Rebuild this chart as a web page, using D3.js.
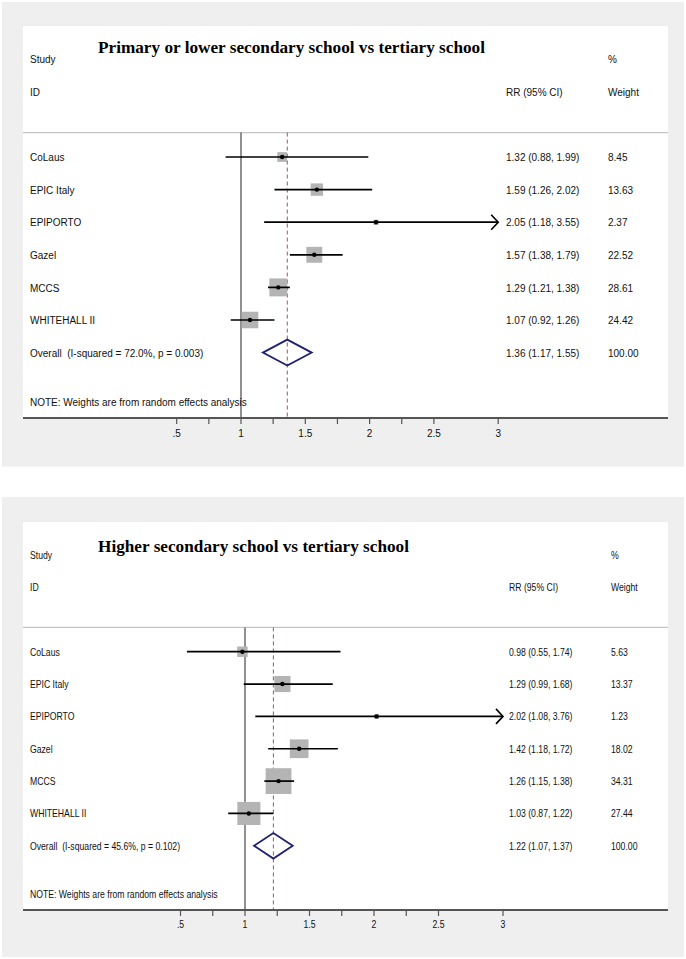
<!DOCTYPE html>
<html><head><meta charset="utf-8">
<script src="https://cdn.jsdelivr.net/npm/d3@7/dist/d3.min.js"></script>
<style>body{margin:0;background:#fff}svg{display:block}</style>
</head><body>
<svg id="c" width="686" height="959"></svg>
<script>
// ---------- data ----------
const studies = ["CoLaus", "EPIC Italy", "EPIPORTO", "Gazel", "MCCS", "WHITEHALL II"];

const titleA = "Primary or lower secondary school vs tertiary school";
const rrA = [1.32, 1.59, 2.05, 1.57, 1.29, 1.07];
const loA = [0.88, 1.26, 1.18, 1.38, 1.21, 0.92];
const hiA = [1.99, 2.02, 3.55, 1.79, 1.38, 1.26];
const wA  = [8.45, 13.63, 2.37, 22.52, 28.61, 24.42];
const overallA = [1.36, 1.17, 1.55];
const overallLabelA = "Overall  (I-squared = 72.0%, p = 0.003)";

const titleB = "Higher secondary school vs tertiary school";
const rrB = [0.98, 1.29, 2.02, 1.42, 1.26, 1.03];
const loB = [0.55, 0.99, 1.08, 1.18, 1.15, 0.87];
const hiB = [1.74, 1.68, 3.76, 1.72, 1.38, 1.22];
const wB  = [5.63, 13.37, 1.23, 18.02, 34.31, 27.44];
const overallB = [1.22, 1.07, 1.37];
const overallLabelB = "Overall  (I-squared = 45.6%, p = 0.102)";

const tickMajor = [0.5, 1, 1.5, 2, 2.5, 3];
const tickLabels = [".5", "1", "1.5", "2", "2.5", "3"];
const tickMinor = [0.75, 1.25, 1.75, 2.25];
const axisMax = 3;
const noteText = "NOTE: Weights are from random effects analysis";

// ---------- drawing ----------
const svg = d3.select("#c");
const fmt = d3.format(".2f");

function panel(data, L) {
  const g = svg.append("g");
  g.append("rect").attr("x", 2).attr("y", L.gy0).attr("width", 682).attr("height", L.gy1 - L.gy0).attr("fill", "#efefef");
  g.append("rect").attr("x", 23).attr("y", L.wy0).attr("width", 645).attr("height", L.wy1 - L.wy0).attr("fill", "#fff");

  const x = d3.scaleLinear().domain([1, 3]).range([L.x1, L.x3]);
  const y = d3.scaleLinear().domain([0, 1]).range([L.row0, L.row0 + L.step]);

  const txt = (s, px, py, anchor) => g.append("text")
    .attr("transform", `translate(${px},${py}) scale(${L.sx},1)`)
    .attr("text-anchor", anchor || "start")
    .style("white-space", "pre")
    .attr("font-family", "'Liberation Sans', Arial, sans-serif")
    .attr("font-size", L.fs).attr("fill", "#111").text(s);
  const off = L.fs * 0.36;

  // title
  g.append("text").attr("x", 98).attr("y", L.titleY)
    .attr("font-family", "'Liberation Serif', 'Times New Roman', serif")
    .attr("font-weight", "bold").attr("font-size", 17.5).attr("fill", "#000")
    .attr("textLength", L.titleW).attr("lengthAdjust", "spacingAndGlyphs")
    .text(data.title);

  // headers
  txt("Study", 30, y(-3) + off);
  txt("ID", 30, y(-2) + off);
  txt("%", L.wX, y(-3) + off);
  txt("RR (95% CI)", L.rrX, y(-2) + off);
  txt("Weight", L.wX, y(-2) + off);

  // separator
  g.append("line").attr("x1", 23).attr("x2", 668).attr("y1", y(-0.75)).attr("y2", y(-0.75))
    .attr("stroke", "#c4c4c4").attr("stroke-width", 1.2);

  // null line
  g.append("line").attr("x1", x(1)).attr("x2", x(1)).attr("y1", y(-0.75)).attr("y2", L.wy1)
    .attr("stroke", "#555").attr("stroke-width", 1.3);
  // overall dashed line
  g.append("line").attr("x1", x(data.overall[0])).attr("x2", x(data.overall[0]))
    .attr("y1", y(-0.75)).attr("y2", L.wy1)
    .attr("stroke", "#a0565a").attr("stroke-width", 1).attr("stroke-dasharray", "4,3");

  // studies
  studies.forEach((s, i) => {
    const cy = y(i);
    const side = L.k * Math.sqrt(data.w[i]);
    g.append("rect").attr("x", x(data.rr[i]) - side / 2).attr("y", cy - side / 2)
      .attr("width", side).attr("height", side).attr("fill", "#b4b4b4");
    const hiC = Math.min(data.hi[i], axisMax);
    g.append("line").attr("x1", x(data.lo[i])).attr("x2", x(hiC)).attr("y1", cy).attr("y2", cy)
      .attr("stroke", "#000").attr("stroke-width", 1.7);
    if (data.hi[i] > axisMax) {
      const tx = x(axisMax);
      g.append("path").attr("d", `M${tx - 7},${cy - 7.5}L${tx},${cy}L${tx - 7},${cy + 7.5}`)
        .attr("fill", "none").attr("stroke", "#000").attr("stroke-width", 1.6);
    }
    g.append("circle").attr("cx", x(data.rr[i])).attr("cy", cy).attr("r", 2.2).attr("fill", "#000");
    txt(s, 30, cy + off);
    txt(`${fmt(data.rr[i])} (${fmt(data.lo[i])}, ${fmt(data.hi[i])})`, L.rrX, cy + off);
    txt(fmt(data.w[i]), L.wX, cy + off);
  });

  // overall diamond
  const oy = y(6), o = data.overall;
  g.append("path")
    .attr("d", `M${x(o[1])},${oy}L${x(o[0])},${oy - L.dh}L${x(o[2])},${oy}L${x(o[0])},${oy + L.dh}Z`)
    .attr("fill", "none").attr("stroke", "#1f2272").attr("stroke-width", 1.8);
  txt(data.overallLabel, 30, oy + off);
  txt(`${fmt(o[0])} (${fmt(o[1])}, ${fmt(o[2])})`, L.rrX, oy + off);
  txt(fmt(d3.sum(data.w)), L.wX, oy + off);

  txt(noteText, 30, y(7.5) + off);

  // axis
  const ax = g.append("g").attr("transform", `translate(0,${L.wy1})`);
  ax.append("line").attr("x1", 23).attr("x2", 668).attr("stroke", "#555").attr("stroke-width", 1.8);
  ax.selectAll(".mj").data(tickMajor).enter().append("line")
    .attr("x1", d => x(d)).attr("x2", d => x(d)).attr("y1", 0).attr("y2", 6)
    .attr("stroke", "#555").attr("stroke-width", 1.2);
  ax.selectAll(".mn").data(tickMinor).enter().append("line")
    .attr("x1", d => x(d)).attr("x2", d => x(d)).attr("y1", 0).attr("y2", 6)
    .attr("stroke", "#555").attr("stroke-width", 1.2);
  tickMajor.forEach((d, i) => txt(tickLabels[i], x(d), L.tickY, "middle"));
}

panel({title: titleA, rr: rrA, lo: loA, hi: hiA, w: wA, overall: overallA, overallLabel: overallLabelA},
  {gy0: 2, gy1: 466.7, wy0: 26, wy1: 418, x1: 241, x3: 498.2, row0: 157, step: 32.6,
   fs: 11.5, sx: 0.87, k: 3.35, rrX: 506, wX: 608, titleY: 53, titleW: 387, tickY: 437, dh: 13});
panel({title: titleB, rr: rrB, lo: loB, hi: hiB, w: wB, overall: overallB, overallLabel: overallLabelB},
  {gy0: 497, gy1: 957, wy0: 522, wy1: 910, x1: 245, x3: 503, row0: 651.7, step: 32.35,
   fs: 10.7, sx: 0.81, k: 4.4, rrX: 509, wX: 611, titleY: 552, titleW: 311, tickY: 928, dh: 12.8});
</script>
</body></html>
